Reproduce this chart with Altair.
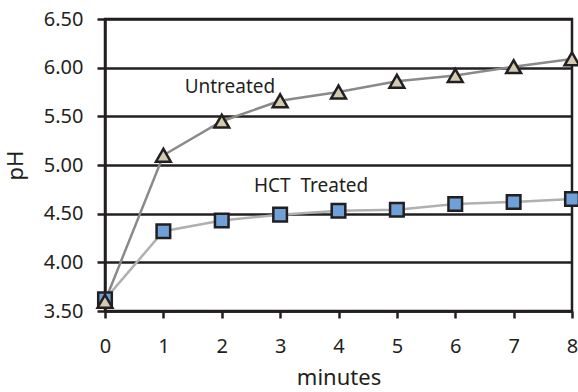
import altair as alt
import pandas as pd

minutes = [0, 1, 2, 3, 4, 5, 6, 7, 8]
untreated = [3.60, 5.10, 5.45, 5.66, 5.75, 5.86, 5.92, 6.01, 6.09]
treated = [3.62, 4.32, 4.43, 4.49, 4.53, 4.54, 4.60, 4.62, 4.65]

label_text = ["Untreated", "HCT\u00a0\u00a0Treated"]
label_x = [2.14, 3.53]
label_y = [5.80, 4.78]

INK = "#231f20"
FONT = "Noto Sans"

df_u = pd.DataFrame({"minutes": minutes, "pH": untreated})
df_t = pd.DataFrame({"minutes": minutes, "pH": treated})
df_l = pd.DataFrame({"text": label_text, "minutes": label_x, "pH": label_y})

x = alt.X("minutes:Q", scale=alt.Scale(domain=[0, 8], nice=False, zero=False),
          axis=alt.Axis(values=minutes, format="d", grid=False, title="minutes",
                        tickSize=7, tickWidth=2.5, tickColor=INK,
                        domainColor=INK, domainWidth=2.5, labelFlush=False,
                        labelPadding=18, titlePadding=11))
y = alt.Y("pH:Q", scale=alt.Scale(domain=[3.5, 6.5], nice=False, zero=False),
          axis=alt.Axis(values=[3.5, 4.0, 4.5, 5.0, 5.5, 6.0, 6.5], format=".2f",
                        grid=True, gridColor=INK, gridWidth=2.5, gridOpacity=1,
                        title="pH", tickSize=8, tickWidth=2.5, tickColor=INK,
                        domainColor=INK, domainWidth=2.5, labelFlush=False,
                        labelPadding=14, titlePadding=16))

line_t = alt.Chart(df_t).mark_line(color="#b0b0b0", strokeWidth=2.5).encode(x=x, y=y)
line_u = alt.Chart(df_u).mark_line(color="#8a8a8a", strokeWidth=2.5).encode(x=x, y=y)
pts_t = alt.Chart(df_t).mark_point(shape="square", filled=True, fill="#6fa0d8",
                                   stroke=INK, strokeWidth=2.5, size=185,
                                   opacity=1).encode(x=x, y=y)
pts_u = alt.Chart(df_u).mark_point(shape="triangle-up", filled=True, fill="#d3cbb0",
                                   stroke=INK, strokeWidth=2.5, size=220,
                                   opacity=1).encode(x=x, y=y)
labels = alt.Chart(df_l).mark_text(font=FONT, fontSize=19, color=INK).encode(
    x=x, y=y, text="text:N")

chart = alt.layer(line_t, line_u, pts_t, pts_u, labels).properties(
    width=467, height=292,
    autosize=alt.AutoSizeParams(type="none"),
    padding={"left": 105, "top": 19, "right": 6, "bottom": 81},
).configure_view(stroke=INK, strokeWidth=2.5).configure_axis(
    labelFont=FONT, titleFont=FONT, labelFontSize=20, titleFontSize=22,
    labelColor=INK, titleColor=INK, titleFontWeight="normal",
)

chart.save("out.html", embed_options={"renderer": "svg", "actions": False})
